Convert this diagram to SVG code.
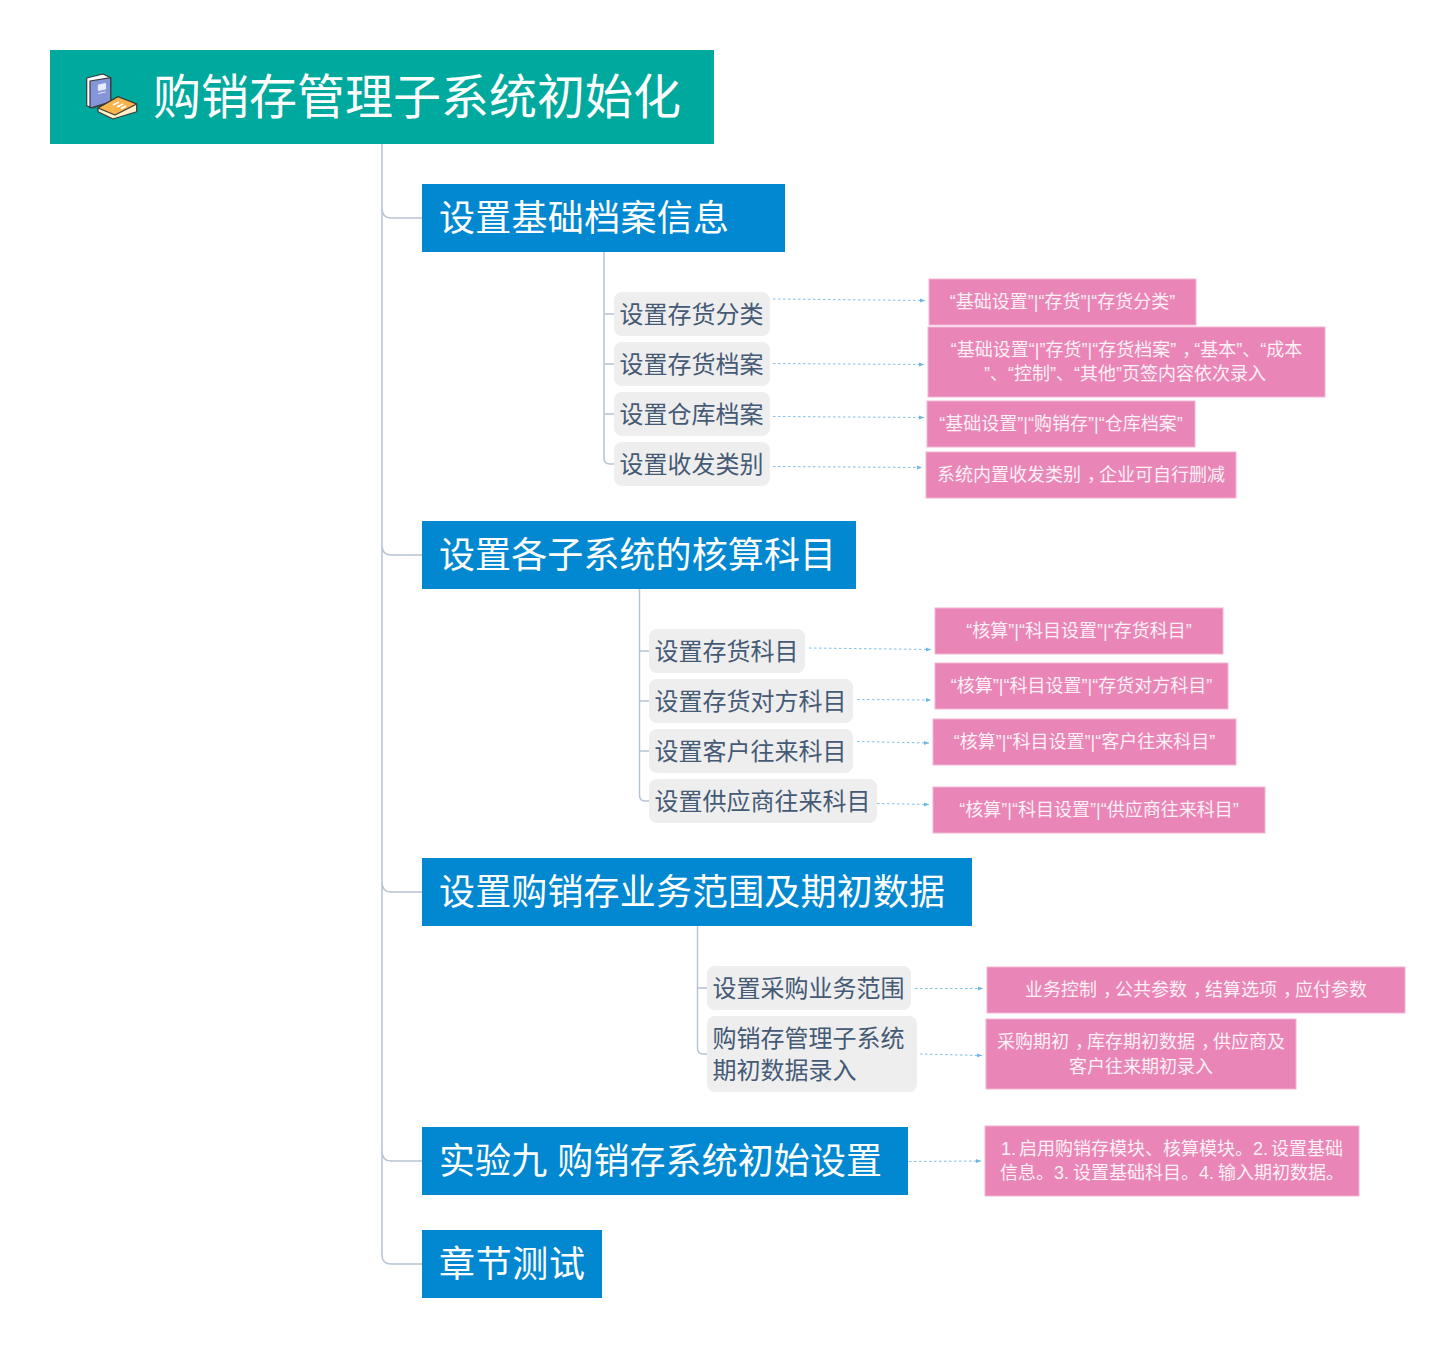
<svg xmlns="http://www.w3.org/2000/svg" width="1455" height="1348" viewBox="0 0 1455 1348">
<style>
text{font-family:"Liberation Sans","Noto Sans CJK SC",sans-serif;}
.t{font-size:48px;fill:#fff;font-weight:400}
.a{fill:#0288d1}
.at{font-size:36px;fill:#fff;font-weight:400}
.b{fill:#eeeeee}
.bt{font-size:24px;fill:#455a75;font-weight:400}
.p{fill:#e986b7;stroke:#f3b4d3;stroke-width:1}
.pt{font-size:18px;fill:#fdf0f6;text-anchor:middle;font-weight:400}
.l{fill:none;stroke:#b6c4d4;stroke-width:1.5}
.d{fill:none;stroke:#7fc0e8;stroke-width:1;stroke-dasharray:2.5 2.5;marker-end:url(#m)}
</style>
<defs><marker id="m" markerWidth="6" markerHeight="6" refX="5" refY="3" orient="auto" markerUnits="userSpaceOnUse"><path d="M0 1L5 3L0 5z" fill="#6cb6e6"/></marker></defs>
<rect width="1455" height="1348" fill="#fff"/>
<g id="connectors">
<path class="l" d="M382 144V1255Q382 1264 391 1264H422M382 208Q382 218 391 218H422M382 545Q382 555 391 555H422M382 882Q382 892 391 892H422M382 1151Q382 1161 391 1161H422"/>
<path class="l" d="M604 252V458Q604 464 610 464H614M604 314H614M604 364H614M604 414H614"/>
<path class="l" d="M639.500 589V795Q639.500 801 645 801H649M639.500 651H649M639.500 701H649M639.500 751H649"/>
<path class="l" d="M697.500 926V1048Q697.500 1054 703 1054H707M697.500 988H707"/>
<path class="d" d="M773 299L925 300.500"/>
<path class="d" d="M773 363.500L924 364.500"/>
<path class="d" d="M773 416.500L924 417.500"/>
<path class="d" d="M773 466.500L922 467.500"/>
<path class="d" d="M809 648L931 649.500"/>
<path class="d" d="M857 699.500L931 700"/>
<path class="d" d="M857 741.500L929 743"/>
<path class="d" d="M877 803.500L929 804.500"/>
<path class="d" d="M915 988.500L983 988.500"/>
<path class="d" d="M920 1054L982 1055.500"/>
<path class="d" d="M909 1161.500L981 1161"/>
</g>
<g id="root"><rect x="50" y="50" width="664" height="94" fill="#00a99d"/>
<g id="icon" stroke="#3a3a3a" stroke-width="1.2" stroke-linejoin="round">
<path d="M86.700 78L103 74L110.700 77.700V101.700L93 108L86.700 105.700z" fill="#fff"/>
<path d="M90 81L110.700 77.700V101.700L90 108z" fill="#8496d8"/>
<path d="M98 108L118 96.700L136.700 104V111.700L113 119L98 111.700z" fill="#fff0c8"/>
<path d="M98 108L118 96.700L136.700 104L115 115z" fill="#f9b44c"/>
<path d="M98.300 85L105.500 83.500V89L98.300 90.500zM98.300 93.500L105.500 92" fill="#e8ecfa" stroke="#e8ecfa" stroke-width="1"/>
<path d="M113 105L119 102M117 107L123 104M121 108.500L126 106" fill="none" stroke="#fff" stroke-width="1.500"/>
</g>
<text class="t" x="153" y="114">购销存管理子系统初始化</text></g>
<g id="n1"><rect class="a" x="422" y="184" width="363" height="68"/><text class="at" x="439" y="231" textLength="290">设置基础档案信息</text></g>
<g id="n11"><rect class="b" x="614" y="292" width="156" height="44" rx="8"/><text class="bt" x="619.500" y="322.500">设置存货分类</text></g>
<g id="n12"><rect class="b" x="614" y="342" width="156" height="44" rx="8"/><text class="bt" x="619.500" y="372.500">设置存货档案</text></g>
<g id="n13"><rect class="b" x="614" y="392" width="156" height="44" rx="8"/><text class="bt" x="619.500" y="422.500">设置仓库档案</text></g>
<g id="n14"><rect class="b" x="614" y="442" width="156" height="44" rx="8"/><text class="bt" x="619.500" y="472.500">设置收发类别</text></g>
<g id="p11"><rect class="p" x="929" y="279" width="267" height="46"/><text class="pt" x="1062.500" y="308">“基础设置”|“存货”|“存货分类”</text></g>
<g id="p12"><rect class="p" x="928" y="327" width="397" height="70"/><text class="pt" x="1126.500" y="356" dx="0 0 0 0 0 0 0 0 0 0 0 0 0 0 0 0 0 0 6 -6">“基础设置“|”存货”|“存货档案”，“基本”、“成本</text><text class="pt" x="1125" y="380">”、“控制”、“其他”页签内容依次录入</text></g>
<g id="p13"><rect class="p" x="927" y="401" width="268" height="46"/><text class="pt" x="1061" y="430">“基础设置”|“购销存”|“仓库档案”</text></g>
<g id="p14"><rect class="p" x="926" y="452" width="310" height="46"/><text class="pt" x="1081" y="481" dx="0 0 0 0 0 0 0 0 6 -6">系统内置收发类别，企业可自行删减</text></g>
<g id="n2"><rect class="a" x="422" y="521" width="434" height="68"/><text class="at" x="439" y="568" textLength="397">设置各子系统的核算科目</text></g>
<g id="n21"><rect class="b" x="649" y="629" width="156" height="44" rx="8"/><text class="bt" x="654.500" y="659.500">设置存货科目</text></g>
<g id="n22"><rect class="b" x="649" y="679" width="204" height="44" rx="8"/><text class="bt" x="654.500" y="709.500">设置存货对方科目</text></g>
<g id="n23"><rect class="b" x="649" y="729" width="204" height="44" rx="8"/><text class="bt" x="654.500" y="759.500">设置客户往来科目</text></g>
<g id="n24"><rect class="b" x="649" y="779" width="228" height="44" rx="8"/><text class="bt" x="654.500" y="809.500">设置供应商往来科目</text></g>
<g id="p21"><rect class="p" x="935" y="608" width="288" height="46"/><text class="pt" x="1079" y="637">“核算”|“科目设置”|“存货科目”</text></g>
<g id="p22"><rect class="p" x="935" y="663" width="293" height="46"/><text class="pt" x="1081.500" y="692">“核算”|“科目设置”|“存货对方科目”</text></g>
<g id="p23"><rect class="p" x="933" y="719" width="303" height="46"/><text class="pt" x="1084.500" y="748">“核算”|“科目设置”|“客户往来科目”</text></g>
<g id="p24"><rect class="p" x="933" y="787" width="332" height="46"/><text class="pt" x="1099" y="816">“核算”|“科目设置”|“供应商往来科目”</text></g>
<g id="n3"><rect class="a" x="422" y="858" width="550" height="68"/><text class="at" x="439" y="905" textLength="506">设置购销存业务范围及期初数据</text></g>
<g id="n31"><rect class="b" x="707" y="966" width="204" height="44" rx="8"/><text class="bt" x="712.500" y="996.500">设置采购业务范围</text></g>
<g id="n32"><rect class="b" x="707" y="1016" width="210" height="76" rx="8"/><text class="bt" x="712.500" y="1046.500">购销存管理子系统</text><text class="bt" x="712.500" y="1078.500">期初数据录入</text></g>
<g id="p31"><rect class="p" x="987" y="967" width="418" height="46"/><text class="pt" x="1196" y="996" dx="0 0 0 0 6 -6 0 0 0 6 -6 0 0 0 6 -6">业务控制，公共参数，结算选项，应付参数</text></g>
<g id="p32"><rect class="p" x="986" y="1019" width="310" height="70"/><text class="pt" x="1141" y="1048" dx="0 0 0 0 6 -6 0 0 0 0 0 6 -6">采购期初，库存期初数据，供应商及</text><text class="pt" x="1141" y="1073">客户往来期初录入</text></g>
<g id="n4"><rect class="a" x="422" y="1127" width="486" height="68"/><text class="at" x="439" y="1174" textLength="443">实验九 购销存系统初始设置</text></g>
<g id="p41"><rect class="p" x="985" y="1126" width="374" height="70"/><text class="pt" x="1172" y="1155" word-spacing="-2">1. 启用购销存模块、核算模块。2. 设置基础</text><text class="pt" x="1172" y="1179" word-spacing="-1">信息。3. 设置基础科目。4. 输入期初数据。</text></g>
<g id="n5"><rect class="a" x="422" y="1230" width="180" height="68"/><text class="at" x="439" y="1277" textLength="146">章节测试</text></g>
</svg>
